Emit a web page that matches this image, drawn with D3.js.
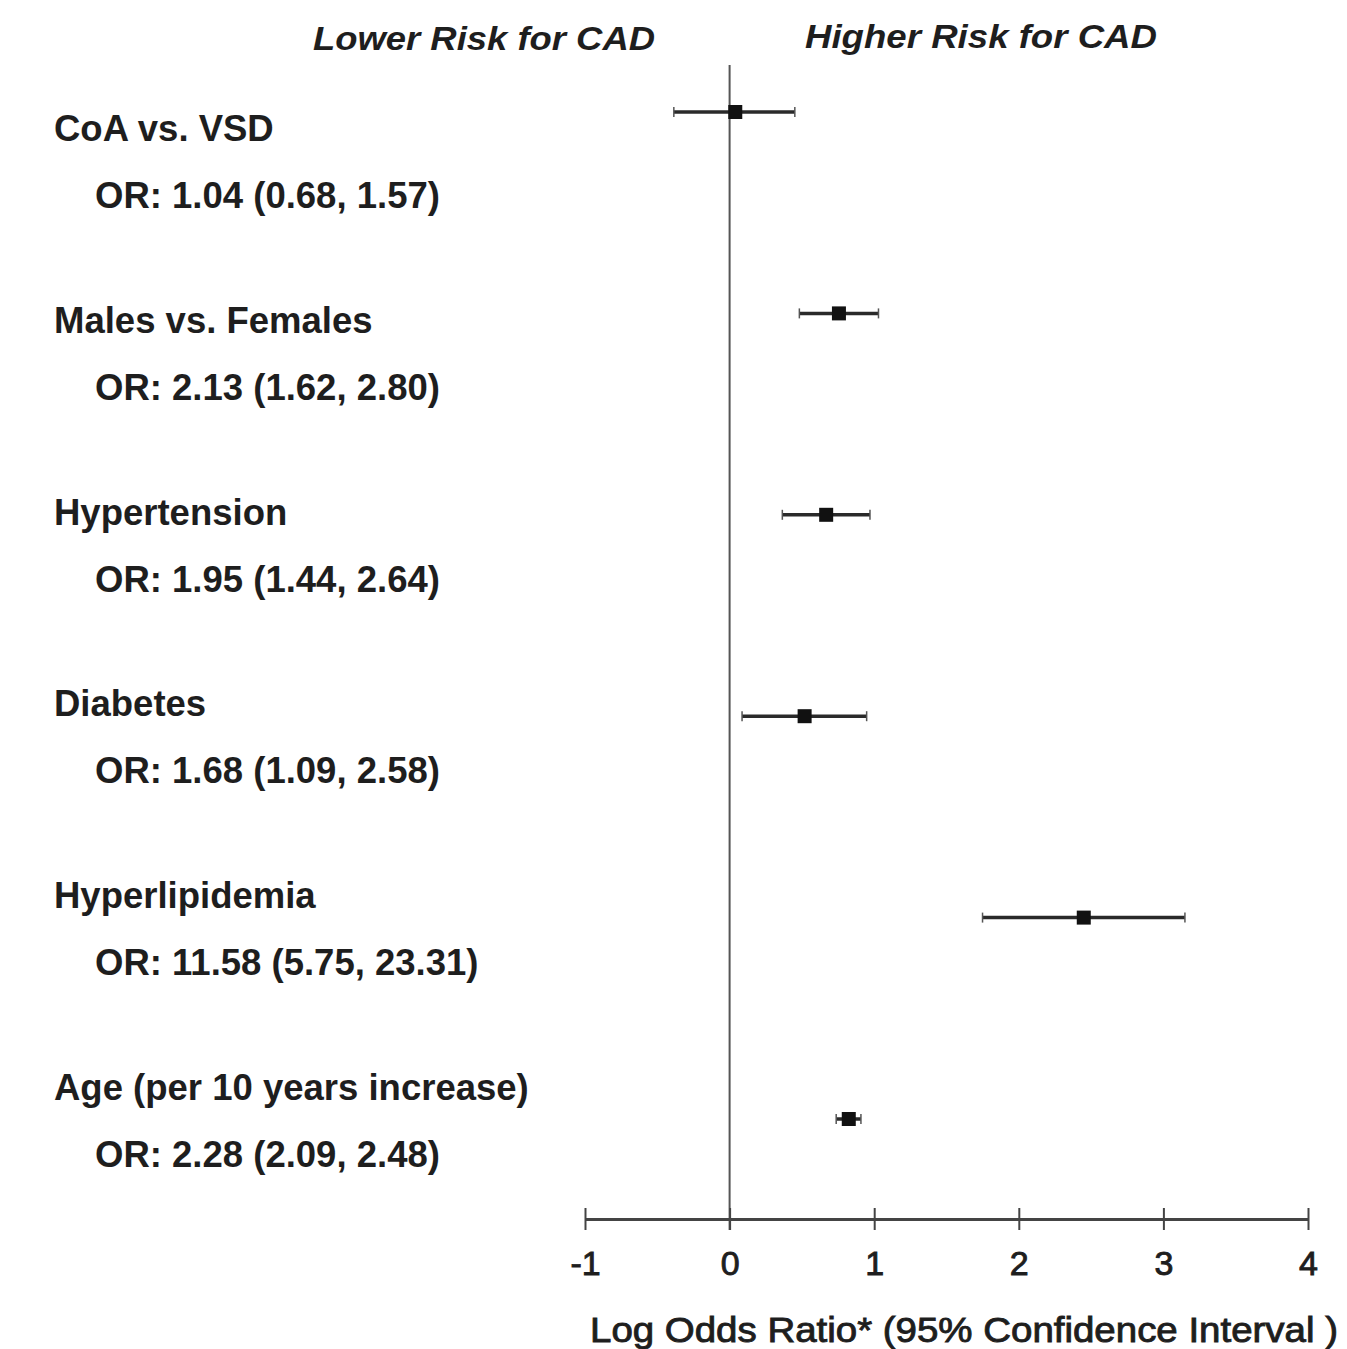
<!DOCTYPE html>
<html>
<head>
<meta charset="utf-8">
<script src="https://cdn.jsdelivr.net/npm/d3@7"></script>
<style>
  html, body { margin: 0; padding: 0; background: #fff; }
  svg { display: block; }
  text { font-family: "Liberation Sans", Arial, sans-serif; fill: #1e1e1e; }
</style>
</head>
<body>
<svg id="chart" width="1347" height="1349"></svg>
<script>
// ---- data ----
const categories = ["CoA vs. VSD", "Males vs. Females", "Hypertension", "Diabetes", "Hyperlipidemia", "Age (per 10 years increase)"];
const oddsRatio = [1.04, 2.13, 1.95, 1.68, 11.58, 2.28];
const ciLower   = [0.68, 1.62, 1.44, 1.09, 5.75, 2.09];
const ciUpper   = [1.57, 2.80, 2.64, 2.58, 23.31, 2.48];
const tickValues = [-1, 0, 1, 2, 3, 4];
const tickLabels = ["-1", "0", "1", "2", "3", "4"];
const headerLeft = "Lower Risk for CAD";
const headerRight = "Higher Risk for CAD";
const axisTitle = "Log Odds Ratio* (95% Confidence Interval )";

const rows = categories.map((c, i) => ({
  name: c, idx: i,
  or: oddsRatio[i], lo: ciLower[i], hi: ciUpper[i],
  logOr: Math.log(oddsRatio[i]), logLo: Math.log(ciLower[i]), logHi: Math.log(ciUpper[i])
}));

const svg = d3.select("#chart");
const x = d3.scaleLinear().domain([-1, 4]).range([585, 1308]);
const yPoint = d3.scaleLinear().domain([0, 5]).range([112, 1119]);
const yLabel = d3.scaleLinear().domain([0, 5]).range([128, 1087]);
const axisY = 1219;
const fmt = d3.format(".2f");

// headers
svg.append("text").attr("x", 484).attr("y", 50).attr("text-anchor", "middle")
  .attr("font-size", 34).attr("font-style", "italic").attr("font-weight", "bold")
  .attr("textLength", 342).attr("lengthAdjust", "spacingAndGlyphs")
  .text(headerLeft);
svg.append("text").attr("x", 981).attr("y", 48).attr("text-anchor", "middle")
  .attr("font-size", 34).attr("font-style", "italic").attr("font-weight", "bold")
  .attr("textLength", 352).attr("lengthAdjust", "spacingAndGlyphs")
  .text(headerRight);

// zero reference line
svg.append("line")
  .attr("x1", x(0)).attr("x2", x(0))
  .attr("y1", 65).attr("y2", axisY + 11)
  .attr("stroke", "#555").attr("stroke-width", 2);

// axis
const axis = d3.axisBottom(x).tickValues(tickValues)
  .tickFormat((d, i) => tickLabels[i]).tickSize(0).tickPadding(0);
const gAxis = svg.append("g").attr("transform", `translate(0,${axisY})`).call(axis);
gAxis.select(".domain").attr("stroke", "#444").attr("stroke-width", 3);
gAxis.selectAll(".tick line").attr("y1", -11).attr("y2", 11).attr("stroke", "#444").attr("stroke-width", 2);
gAxis.selectAll(".tick text")
  .attr("y", 56).attr("dy", null)
  .attr("font-size", 34).attr("font-family", "Liberation Sans, Arial, sans-serif")
  .attr("fill", "#1e1e1e").attr("stroke", "#1e1e1e").attr("stroke-width", 0.9);

// axis title
svg.append("text").attr("x", 964).attr("y", 1342).attr("text-anchor", "middle")
  .attr("font-size", 35).attr("stroke", "#1e1e1e").attr("stroke-width", 0.9)
  .attr("textLength", 748).attr("lengthAdjust", "spacingAndGlyphs")
  .text(axisTitle);

// labels
const gLab = svg.append("g");
gLab.selectAll("text.cat").data(rows).join("text").attr("class", "cat")
  .attr("x", 54).attr("y", d => yLabel(d.idx) + 13)
  .attr("font-size", 36.5).attr("font-weight", "bold").attr("fill", "#262626")
  .text(d => d.name);
gLab.selectAll("text.or").data(rows).join("text").attr("class", "or")
  .attr("x", 95).attr("y", d => yLabel(d.idx) + 80)
  .attr("font-size", 36.5).attr("font-weight", "bold").attr("fill", "#262626")
  .text(d => `OR: ${fmt(d.or)} (${fmt(d.lo)}, ${fmt(d.hi)})`);

// CI lines
const gMarks = svg.append("g");
gMarks.selectAll("line.ci").data(rows).join("line").attr("class", "ci")
  .attr("x1", d => x(d.logLo)).attr("x2", d => x(d.logHi))
  .attr("y1", d => yPoint(d.idx)).attr("y2", d => yPoint(d.idx))
  .attr("stroke", "#2a2a2a").attr("stroke-width", 3.5);
gMarks.selectAll("line.capL").data(rows).join("line").attr("class", "capL")
  .attr("x1", d => x(d.logLo)).attr("x2", d => x(d.logLo))
  .attr("y1", d => yPoint(d.idx) - 5).attr("y2", d => yPoint(d.idx) + 5)
  .attr("stroke", "#555").attr("stroke-width", 1.5);
gMarks.selectAll("line.capR").data(rows).join("line").attr("class", "capR")
  .attr("x1", d => x(d.logHi)).attr("x2", d => x(d.logHi))
  .attr("y1", d => yPoint(d.idx) - 5).attr("y2", d => yPoint(d.idx) + 5)
  .attr("stroke", "#555").attr("stroke-width", 1.5);
gMarks.selectAll("rect.pt").data(rows).join("rect").attr("class", "pt")
  .attr("x", d => x(d.logOr) - 7).attr("y", d => yPoint(d.idx) - 7)
  .attr("width", 14).attr("height", 14)
  .attr("fill", "#111");
</script>
</body>
</html>
